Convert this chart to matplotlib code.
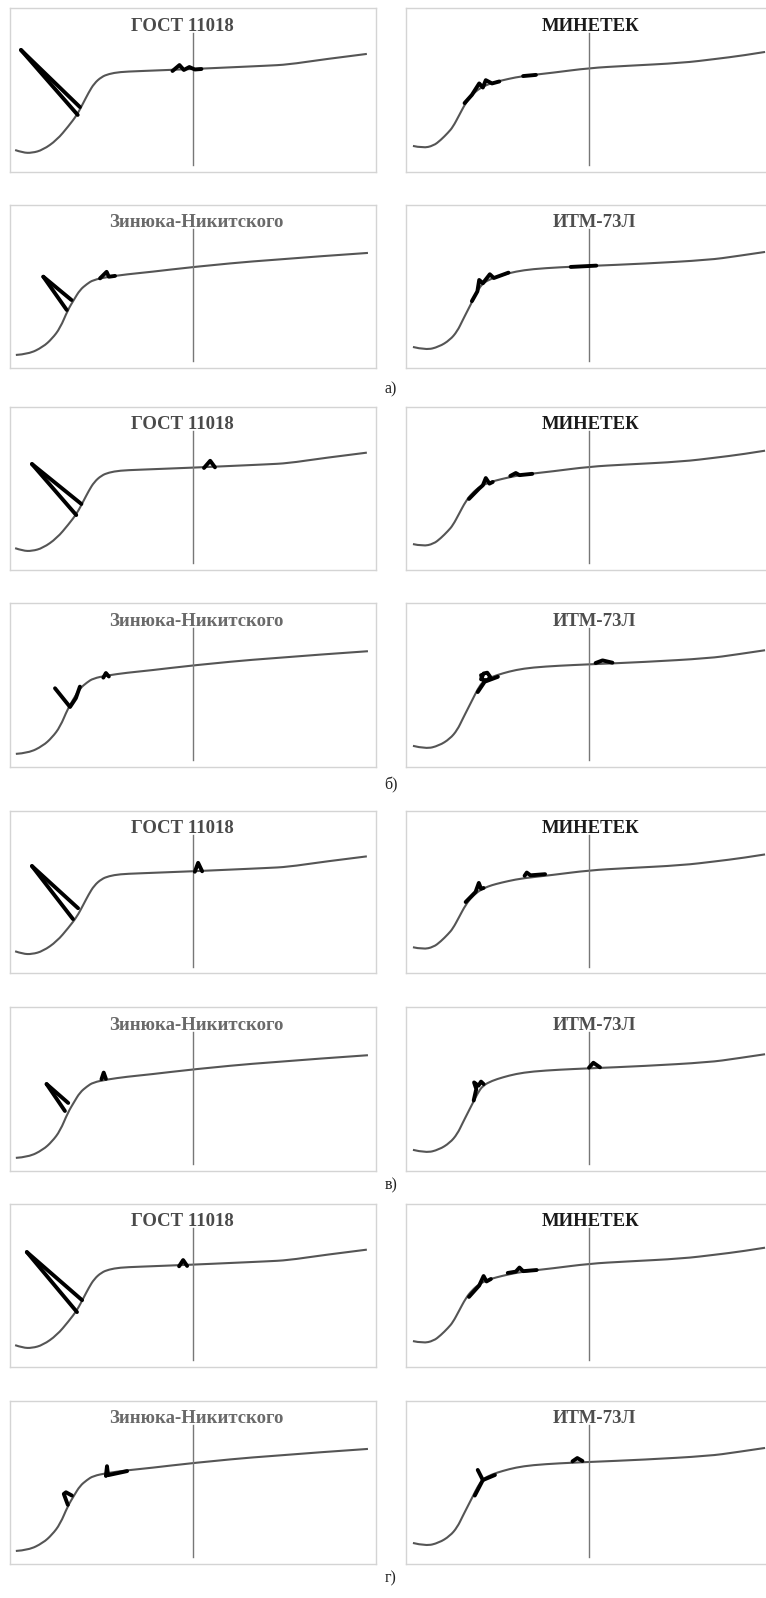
import numpy as np
import matplotlib.pyplot as plt
from matplotlib.path import Path
from matplotlib.patches import PathPatch

W, H = 766, 1598

# base curves, normalised to the panel box (0..1)
gost_x = [0.014, 0.035, 0.060, 0.090, 0.128, 0.160, 0.183, 0.200, 0.215, 0.230, 0.250, 0.270,
          0.300, 0.350, 0.500, 0.600, 0.700, 0.760, 0.850, 0.975]
gost_y = [0.134, 0.118, 0.116, 0.135, 0.195, 0.280, 0.348, 0.420, 0.485, 0.540, 0.580, 0.598,
          0.610, 0.615, 0.628, 0.638, 0.648, 0.655, 0.685, 0.720]

minetek_x = [0.019, 0.046, 0.075, 0.095, 0.115, 0.128, 0.145, 0.163, 0.180, 0.202, 0.225, 0.245,
             0.280, 0.319, 0.400, 0.501, 0.600, 0.755, 0.845, 0.920, 0.981]
minetek_y = [0.159, 0.146, 0.160, 0.195, 0.240, 0.274, 0.345, 0.421, 0.470, 0.512, 0.535, 0.549,
             0.568, 0.585, 0.605, 0.634, 0.647, 0.665, 0.689, 0.710, 0.732]

zin_x = [0.016, 0.050, 0.090, 0.115, 0.137, 0.158, 0.175, 0.191, 0.210, 0.227, 0.265, 0.320,
         0.383, 0.500, 0.702, 0.978]
zin_y = [0.080, 0.085, 0.129, 0.180, 0.245, 0.356, 0.420, 0.479, 0.515, 0.540, 0.558, 0.575,
         0.589, 0.620, 0.663, 0.706]

itm_x = [0.019, 0.054, 0.090, 0.120, 0.140, 0.155, 0.170, 0.183, 0.196, 0.210, 0.235, 0.264,
         0.300, 0.346, 0.420, 0.501, 0.650, 0.828, 0.900, 0.981]
itm_y = [0.129, 0.110, 0.130, 0.172, 0.225, 0.294, 0.360, 0.417, 0.475, 0.521, 0.550, 0.571,
         0.592, 0.607, 0.618, 0.626, 0.640, 0.663, 0.685, 0.712]

titles = ['ГОСТ 11018', 'МИНЕТЕК', 'Зинюка-Никитского', 'ИТМ-73Л']
title_x = [0.47, 0.505, 0.51, 0.515]
title_colors = ['#4a4a4a', '#1a1a1a', '#6a6a6a', '#4e4e4e']
curves = [(gost_x, gost_y), (minetek_x, minetek_y), (zin_x, zin_y), (itm_x, itm_y)]
group_labels = ['а)', 'б)', 'в)', 'г)']

# fitted pieces (black) per group, per panel: list of polylines [(x...), (y...)]
fits = {
    'а': [
        [[(0.030, 0.191), (0.744, 0.396)], [(0.030, 0.185), (0.744, 0.348)],
         [(0.444, 0.463, 0.475, 0.490, 0.505, 0.523), (0.616, 0.652, 0.622, 0.640, 0.625, 0.628)]],
        [[(0.160, 0.180, 0.200, 0.210, 0.218, 0.235, 0.255), (0.420, 0.470, 0.540, 0.515, 0.560, 0.540, 0.552)],
         [(0.320, 0.355), (0.585, 0.592)]],
        [[(0.091, 0.168), (0.560, 0.417)], [(0.091, 0.155), (0.560, 0.356)],
         [(0.246, 0.264, 0.270, 0.287), (0.550, 0.590, 0.560, 0.565)]],
        [[(0.180, 0.195, 0.200, 0.210, 0.229, 0.240, 0.280), (0.410, 0.470, 0.540, 0.520, 0.575, 0.552, 0.585)],
         [(0.450, 0.520), (0.620, 0.628)]],
    ],
    'б': [
        [[(0.060, 0.195), (0.650, 0.405)], [(0.060, 0.181), (0.650, 0.337)],
         [(0.530, 0.547, 0.560), (0.626, 0.670, 0.630)]],
        [[(0.172, 0.200, 0.210, 0.218, 0.228, 0.237), (0.436, 0.500, 0.520, 0.564, 0.530, 0.540)],
         [(0.285, 0.300, 0.310, 0.345), (0.577, 0.595, 0.582, 0.590)]],
        [[(0.123, 0.164, 0.180, 0.191), (0.480, 0.366, 0.420, 0.490)],
         [(0.255, 0.262, 0.270), (0.545, 0.573, 0.552)]],
        [[(0.196, 0.215, 0.251), (0.457, 0.520, 0.550)],
         [(0.205, 0.212, 0.222, 0.230, 0.224, 0.210, 0.205), (0.535, 0.570, 0.575, 0.550, 0.530, 0.530, 0.560)],
         [(0.518, 0.537, 0.564), (0.634, 0.650, 0.636)]],
    ],
    'в': [
        [[(0.060, 0.186), (0.660, 0.400)], [(0.060, 0.172), (0.660, 0.333)],
         [(0.505, 0.514, 0.525), (0.625, 0.680, 0.628)]],
        [[(0.163, 0.190, 0.199, 0.205, 0.212), (0.438, 0.500, 0.556, 0.520, 0.525)],
         [(0.324, 0.330, 0.340, 0.380), (0.600, 0.620, 0.603, 0.610)]],
        [[(0.100, 0.159), (0.530, 0.415)], [(0.100, 0.150), (0.530, 0.366)],
         [(0.250, 0.256, 0.262), (0.560, 0.600, 0.562)]],
        [[(0.185, 0.192, 0.186, 0.198, 0.205, 0.212), (0.430, 0.500, 0.540, 0.520, 0.545, 0.530)],
         [(0.500, 0.512, 0.530), (0.630, 0.660, 0.632)]],
    ],
    'г': [
        [[(0.046, 0.197), (0.705, 0.410)], [(0.046, 0.183), (0.705, 0.337)],
         [(0.462, 0.473, 0.484), (0.618, 0.656, 0.620)]],
        [[(0.172, 0.200, 0.212, 0.220, 0.232), (0.430, 0.500, 0.558, 0.525, 0.540)],
         [(0.278, 0.300, 0.310, 0.320, 0.357), (0.577, 0.585, 0.610, 0.588, 0.595)]],
        [[(0.158, 0.147, 0.153, 0.169), (0.363, 0.430, 0.440, 0.420)],
         [(0.262, 0.265, 0.268, 0.320), (0.540, 0.600, 0.545, 0.570)]],
        [[(0.188, 0.210), (0.420, 0.515)], [(0.196, 0.210, 0.243), (0.577, 0.515, 0.546)],
         [(0.455, 0.468, 0.482), (0.630, 0.650, 0.632)]],
    ],
}

# box rows (top, bottom) in pixels, column lefts
rows_px = [(8, 172), (205, 368), (407, 570), (603, 767), (811, 973), (1007, 1171), (1204, 1367), (1401, 1564)]
col_left = [10, 406]
box_w = 366
label_y = [389, 785, 1185, 1578]


def smooth_path(xs, ys):
    # quadratic bezier through midpoints, the read points act as control points
    pts = list(zip(xs, ys))
    verts = [pts[0]]
    codes = [Path.MOVETO]
    for i in range(1, len(pts) - 1):
        mid = ((pts[i][0] + pts[i + 1][0]) / 2, (pts[i][1] + pts[i + 1][1]) / 2)
        if i == len(pts) - 2:
            mid = pts[-1]
        verts += [pts[i], mid]
        codes += [Path.CURVE3, Path.CURVE3]
    return Path(verts, codes)


plt.rcParams['font.family'] = ['Liberation Serif', 'DejaVu Serif']
fig = plt.figure(figsize=(W / 100, H / 100), dpi=100)

for g, key in enumerate(['а', 'б', 'в', 'г']):
    for p in range(4):
        r = g * 2 + p // 2
        c = p % 2
        top, bot = rows_px[r]
        ax = fig.add_axes([col_left[c] / W, 1 - bot / H, box_w / W, (bot - top) / H])
        ax.set_xlim(0, 1)
        ax.set_ylim(0, 1)
        ax.set_xticks([])
        ax.set_yticks([])
        for s in ax.spines.values():
            s.set_color('#d4d4d4')
            s.set_linewidth(1.0)
        ax.plot([0.5, 0.5], [0.04, 0.85], color='#777777', lw=1.0)
        cx, cy = curves[p]
        ax.add_patch(PathPatch(smooth_path(cx, cy), facecolor='none', edgecolor='#555555',
                               lw=1.5, joinstyle='round'))
        for fx, fy in fits[key][p]:
            ax.plot(fx, fy, color='black', lw=2.8, solid_capstyle='round', solid_joinstyle='round')
        ax.text(title_x[p], 0.89, titles[p], ha='center', va='center', fontsize=13.5,
                fontweight='bold', color=title_colors[p])
    fig.text(391 / W, 1 - label_y[g] / H, group_labels[g], ha='center', va='center',
             fontsize=11.5, color='#222222')

fig.savefig('out.png', dpi=100)
